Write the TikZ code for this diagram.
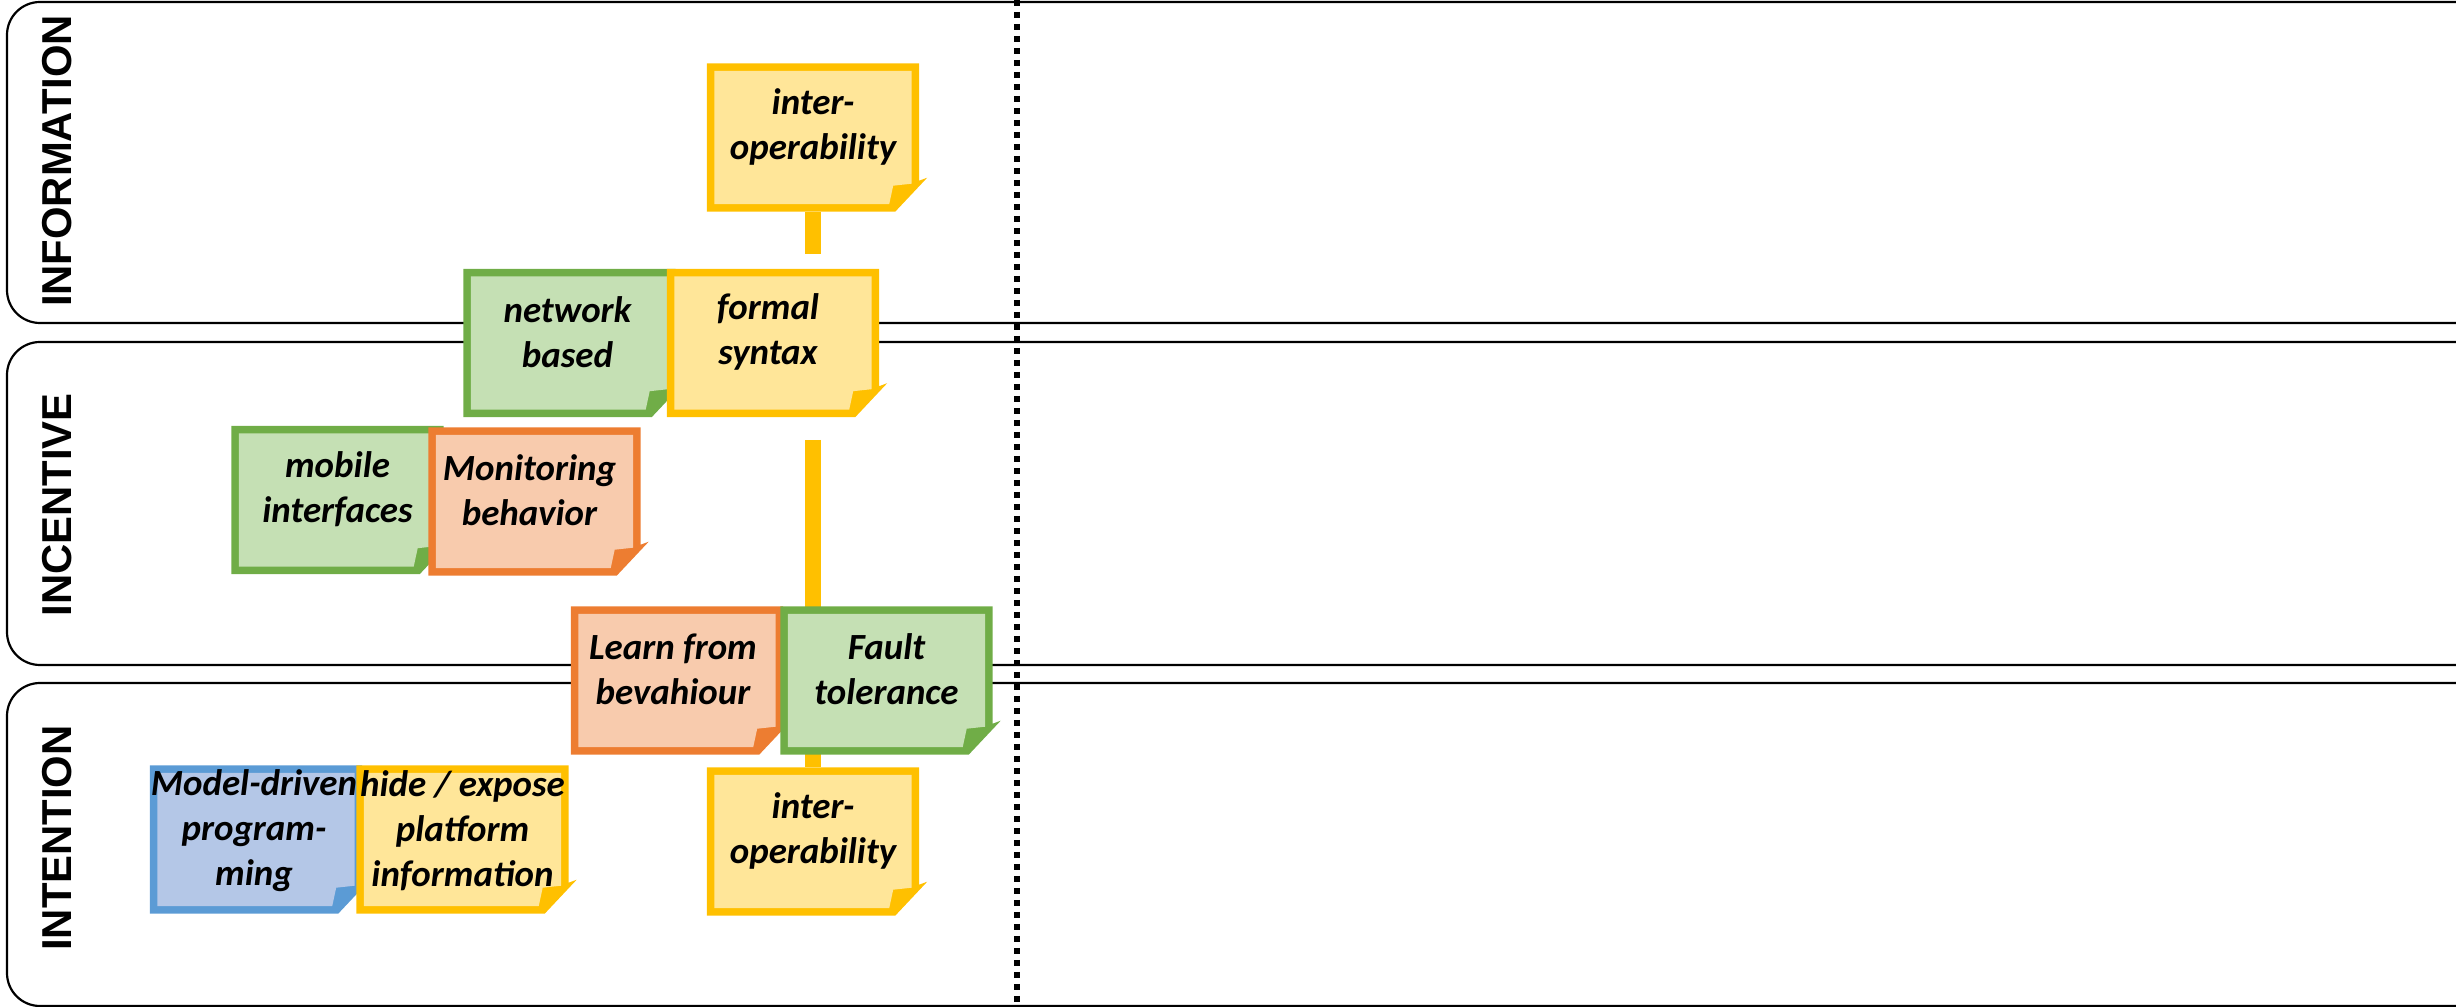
\documentclass[tikz,border=0pt]{standalone}
\usepackage{fontspec}
\setmainfont{Carlito}
\newfontfamily\lanefont{Liberation Sans}
\usetikzlibrary{calc}
\definecolor{yb}{HTML}{FFC000}\definecolor{yf}{HTML}{FFE699}
\definecolor{gb}{HTML}{70AD47}\definecolor{gf}{HTML}{C5E0B4}
\definecolor{ob}{HTML}{ED7D31}\definecolor{of}{HTML}{F8CBAD}
\definecolor{bb}{HTML}{5B9BD5}\definecolor{bf}{HTML}{B4C7E7}
\pgfdeclarelayer{bg}\pgfdeclarelayer{fg}\pgfsetlayers{bg,main,fg}
\tikzset{
 lane/.style={draw=black, line width=0.22mm, rounded corners=3.3mm},
 lanelabel/.style={font=\lanefont\bfseries\fontsize{11.9pt}{14pt}\selectfont, rotate=90, inner sep=0},
 notebox/.style={minimum width=21.1mm, minimum height=14.7mm, inner sep=0, draw=none},
 notetext/.style={font=\bfseries\itshape\fontsize{10.5pt}{12.8pt}\selectfont, align=center, inner sep=0},
 conn/.style={draw=yb, line width=1.6mm},
 divider/.style={draw=black, line width=0.6mm, dash pattern=on 0.6mm off 0.6mm},
}
% #1 name, #2 centre, #3 border colour, #4 fill colour, #5 text offset, #6 text
\newcommand\stickynote[6]{%
 \node[notebox] (#1) at (#2) {};
 \fill[#3] (#1.north west) -- (#1.north east) -- ($(#1.south east)+(0,-31)$)
   -- ($(#1.south east)+(8,-34)$) -- ($(#1.south east)+(-24,0)$) -- (#1.south west) -- cycle;
 \fill[#4] ($(#1.north west)+(7.5,7.5)$) -- ($(#1.north east)+(-7.5,7.5)$)
   -- ($(#1.south east)+(-7.5,-28)$) -- ($(#1.south east)+(-26,-26)$)
   -- ($(#1.south east)+(-30,-7.5)$) -- ($(#1.south west)+(7.5,-7.5)$) -- cycle;
 \begin{pgfonlayer}{fg}
 \node[notetext] (#1-t) at ($(#1.center)+(#5)$) {#6};
 \end{pgfonlayer}%
}
\begin{document}
\begin{tikzpicture}[x=0.1mm,y=-0.1mm]
\useasboundingbox (0,0) rectangle (2456,1007);
\begin{pgfonlayer}{bg}
\draw[lane] (2456,2) -- (7,2) -- (7,323) -- (2456,323);
\draw[lane] (2456,342) -- (7,342) -- (7,665) -- (2456,665);
\draw[lane] (2456,683) -- (7,683) -- (7,1006) -- (2456,1006);
\end{pgfonlayer}
\node[lanelabel] (lab1) at (57,161) {INFORMATION};
\node[lanelabel] (lab2) at (57,505) {INCENTIVE};
\node[lanelabel] (lab3) at (57,838) {INTENTION};

\stickynote{intertop}{813,137.5}{yb}{yf}{0,-11}{inter-\\operability}
\stickynote{network}{569.5,343}{gb}{gf}{-2,-11}{network\\based}
\stickynote{formal}{773,343}{yb}{yf}{-5,-11}{formal\\syntax}
\stickynote{mobile}{337.5,500}{gb}{gf}{0,-11}{mobile\\interfaces}
\stickynote{monitor}{534.5,501.5}{ob}{of}{-5,-11}{Monitoring\\behavior}
\stickynote{learn}{677,680.5}{ob}{of}{-4,-11}{Learn from\\bevahiour}
\stickynote{fault}{886.5,680.5}{gb}{gf}{0,-11}{Fault\\tolerance}
\stickynote{model}{256,839.5}{bb}{bf}{-2,-9}{Model-driven\\program-\\ming}
\stickynote{hide}{462.5,839.5}{yb}{yf}{0,-9}{hide / expose\\platform\\information}
\stickynote{interbot}{813,841.5}{yb}{yf}{0,-11}{inter-\\operability}

\coordinate (c1end) at (813,254);
\coordinate (c2start) at (813,440);
\begin{pgfonlayer}{bg}
\draw[conn] (intertop.south) -- (c1end);
\draw[conn] (c2start) -- (interbot.north);
\end{pgfonlayer}

\coordinate (dtop) at (1017,0);
\coordinate (dbot) at (1017,1007);
\draw[divider] (dtop) -- (dbot);
\end{tikzpicture}
\end{document}
